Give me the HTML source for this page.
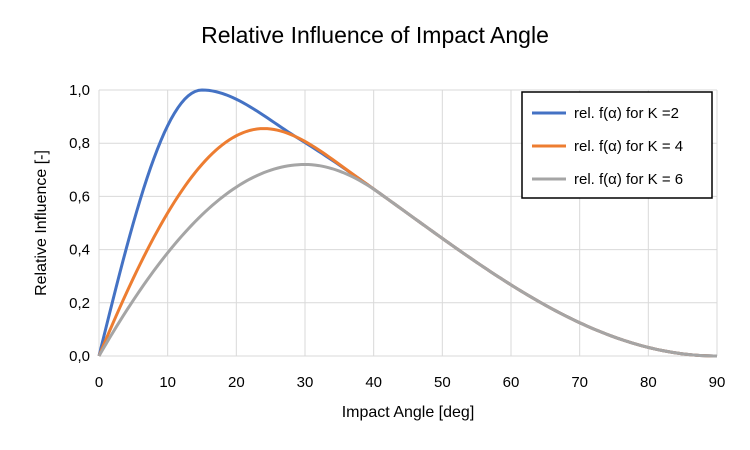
<!DOCTYPE html>
<html><head><meta charset="utf-8"><style>
body{margin:0;background:#fff;}
svg{display:block;font-family:"Liberation Sans",sans-serif;}
</style></head><body>
<svg id="s" width="750" height="450" xmlns="http://www.w3.org/2000/svg">
<rect width="750" height="450" fill="#fff"/>
<text x="375" y="43" text-anchor="middle" font-size="23" fill="#000">Relative Influence of Impact Angle</text>
<g id="grid" stroke="#d9d9d9" stroke-width="1"></g>
<g id="lab" font-size="15" fill="#000"></g>
<g id="curves" fill="none" stroke-width="3"></g>
<text x="408" y="417" text-anchor="middle" font-size="16">Impact Angle [deg]</text>
<text transform="translate(46,223) rotate(-90)" text-anchor="middle" font-size="16">Relative Influence [-]</text>
<rect x="522" y="92" width="190" height="106" fill="#fff" stroke="#000" stroke-width="1.5"/>
<line x1="532" y1="113" x2="566" y2="113" stroke="#4472C4" stroke-width="3"/>
<text x="574" y="118" font-size="15">rel. f(α) for K =2</text>
<line x1="532" y1="146" x2="566" y2="146" stroke="#ED7D31" stroke-width="3"/>
<text x="574" y="151" font-size="15">rel. f(α) for K = 4</text>
<line x1="532" y1="179" x2="566" y2="179" stroke="#A5A5A5" stroke-width="3"/>
<text x="574" y="184" font-size="15">rel. f(α) for K = 6</text>
</svg>
<script>
var X=a=>99+a*(618/90), Y=v=>356-v*266;
var g=document.getElementById('grid'),l=document.getElementById('lab'),ns="http://www.w3.org/2000/svg";
function el(p,t,at,tx){var e=document.createElementNS(ns,t);for(var k in at)e.setAttribute(k,at[k]);if(tx)e.textContent=tx;p.appendChild(e);return e;}
for(var i=0;i<=9;i++){var x=X(i*10);el(g,'line',{x1:x,x2:x,y1:Y(1.0),y2:Y(0)});el(l,'text',{x:x,y:387,'text-anchor':'middle'},String(i*10));}
for(var j=0;j<=5;j++){var y=Y(j*0.2);el(g,'line',{x1:X(0),x2:X(90),y1:y,y2:y});el(l,'text',{x:90,y:y+5,'text-anchor':'end'},(j*0.2).toFixed(1).replace('.',','));}
var d=Math.PI/180;
function tail(a){return 1.07*Math.cos(a*d)*Math.cos(a*d);}
function dtail(a){return -1.07*Math.sin(2*a*d)*d;}
function f(a,p,ap,aj,m){
 if(a<=ap){var t=a/ap;return p*(m*Math.sin(Math.PI/2*t)+(1-m)*(2*t-t*t));}
 if(a>=aj)return tail(a);
 var h=aj-ap,t=(a-ap)/h,t2=t*t,t3=t2*t;
 return (2*t3-3*t2+1)*p+(-2*t3+3*t2)*tail(aj)+(t3-t2)*h*dtail(aj);
}
var C=document.getElementById('curves');
[[1.0,15,29,'#4472C4',1],[0.855,24,38,'#ED7D31',0.6],[0.72,30,41,'#A5A5A5',0.3]].forEach(function(c){
 var s='';for(var a=0;a<=90.001;a+=0.5){s+=(a?'L':'M')+X(a).toFixed(2)+','+Y(f(a,c[0],c[1],c[2],c[4])).toFixed(2);}
 el(C,'path',{d:s,stroke:c[3]});
});
</script>
</body></html>
